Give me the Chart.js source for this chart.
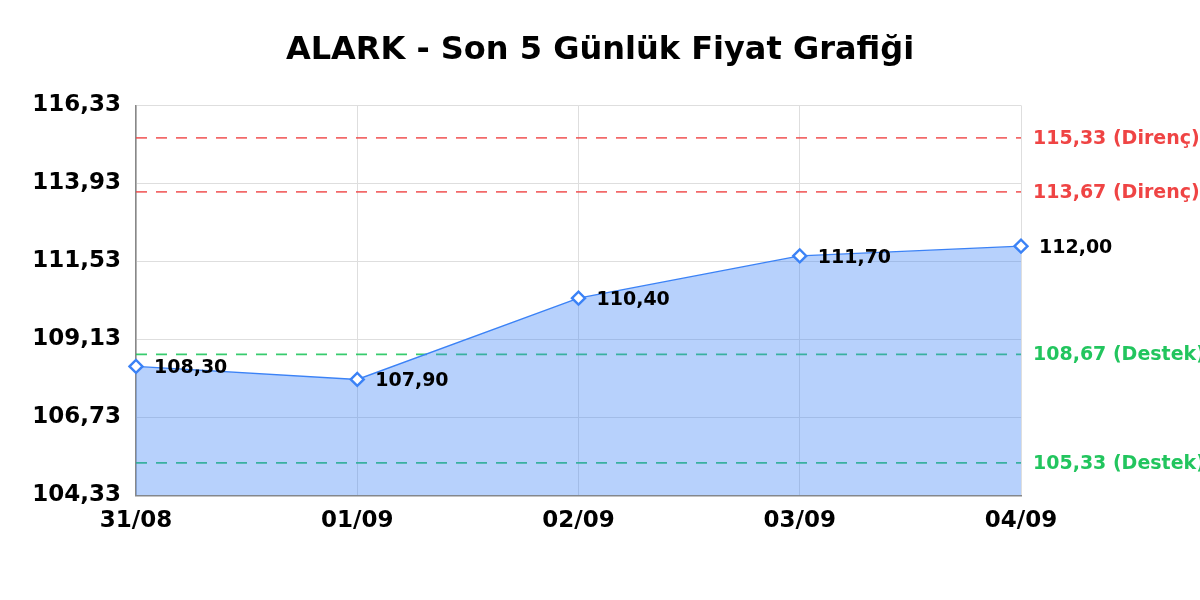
<!DOCTYPE html>
<html>
<head>
<meta charset="utf-8">
<script src="https://cdn.jsdelivr.net/npm/chart.js@4/dist/chart.umd.min.js"></script>
<style>
  html, body { margin: 0; padding: 0; background: #fff; }
  #wrap { width: 1200px; height: 600px; }
</style>
</head>
<body>
<div id="wrap"><canvas id="grafik"></canvas></div>
<script>
// Veriler
const gunler = ['31/08', '01/09', '02/09', '03/09', '04/09'];
const fiyatlar = [108.30, 107.90, 110.40, 111.70, 112.00];
const direncler = [115.33, 113.67];
const destekler = [108.67, 105.33];
const eksenMin = 104.33;
const eksenMax = 116.33;
const eksenAdim = 2.4;

const virgul = v => v.toFixed(2).replace('.', ',');

// Direnç / destek çizgileri ve etiketleri
const seviyeCizgileri = {
    id: 'seviyeCizgileri',
    beforeDatasetsDraw(chart) {
        const ctx = chart.ctx;
        const y = chart.scales.y;
        const alan = chart.chartArea;
        const ciz = (deger, renk) => {
            const py = y.getPixelForValue(deger);
            ctx.save();
            ctx.strokeStyle = renk;
            ctx.lineWidth = 1.6;
            ctx.setLineDash([11, 9]);
            ctx.beginPath();
            ctx.moveTo(alan.left, py);
            ctx.lineTo(alan.right, py);
            ctx.stroke();
            ctx.restore();
        };
        direncler.forEach(d => ciz(d, 'rgba(239, 68, 68, 0.8)'));
        destekler.forEach(d => ciz(d, 'rgba(34, 197, 94, 0.9)'));
    },
    afterDraw(chart) {
        const ctx = chart.ctx;
        const y = chart.scales.y;
        const alan = chart.chartArea;
        const yaz = (deger, metin, renk) => {
            ctx.save();
            ctx.font = 'bold 19px "DejaVu Sans"';
            ctx.fillStyle = renk;
            ctx.textAlign = 'left';
            ctx.textBaseline = 'middle';
            ctx.fillText(virgul(deger) + ' ' + metin, alan.right + 12, y.getPixelForValue(deger) + 1);
            ctx.restore();
        };
        direncler.forEach(d => yaz(d, '(Direnç)', '#ef4444'));
        destekler.forEach(d => yaz(d, '(Destek)', '#22c55e'));
    }
};

// Nokta etiketleri
const degerEtiketleri = {
    id: 'degerEtiketleri',
    afterDatasetsDraw(chart) {
        const ctx = chart.ctx;
        const meta = chart.getDatasetMeta(0);
        ctx.save();
        ctx.font = 'bold 19px "DejaVu Sans"';
        ctx.fillStyle = '#000';
        ctx.textAlign = 'left';
        ctx.textBaseline = 'middle';
        meta.data.forEach((nokta, i) => {
            ctx.fillText(virgul(fiyatlar[i]), nokta.x + 18, nokta.y + 2);
        });
        ctx.restore();
    }
};

const ctx = document.getElementById('grafik').getContext('2d');
new Chart(ctx, {
    type: 'line',
    data: {
        labels: gunler,
        datasets: [{
            data: fiyatlar,
            borderColor: '#3b82f6',
            borderWidth: 1.5,
            backgroundColor: 'rgba(59, 130, 246, 0.37)',
            fill: 'start',
            tension: 0,
            pointStyle: 'rectRot',
            pointRadius: 6.5,
            pointBorderWidth: 2.4,
            pointBackgroundColor: '#fff',
            pointBorderColor: '#3b82f6'
        }]
    },
    options: {
        responsive: true,
        maintainAspectRatio: false,
        animation: false,
        layout: { padding: { left: 0, right: 0, top: 0, bottom: 53 } },
        plugins: {
            legend: { display: false },
            tooltip: { enabled: false },
            title: {
                display: true,
                text: 'ALARK - Son 5 Günlük Fiyat Grafiği',
                color: '#000',
                font: { family: 'DejaVu Sans', size: 32, weight: 'bold' },
                padding: { top: 31, bottom: 36 }
            }
        },
        scales: {
            x: {
                grid: { color: '#dedede', drawTicks: false },
                border: { color: '#888', width: 1.5 },
                ticks: {
                    color: '#000',
                    padding: 12,
                    maxRotation: 0,
                    font: { family: 'DejaVu Sans', size: 23, weight: 'bold' }
                }
            },
            y: {
                min: eksenMin,
                max: eksenMax,
                afterBuildTicks(scale) {
                    const t = [];
                    for (let i = 0; i <= 5; i++) t.push({ value: eksenMin + i * eksenAdim });
                    scale.ticks = t;
                },
                afterFit(scale) { scale.width = 136; },
                grid: { color: '#dedede', drawTicks: false },
                border: { color: '#888', width: 1.5 },
                ticks: {
                    color: '#000',
                    padding: 15,
                    font: { family: 'DejaVu Sans', size: 23, weight: 'bold' },
                    callback: v => virgul(v)
                }
            },
            bos: {
                position: 'right',
                display: true,
                afterFit(scale) { scale.width = 179; },
                grid: { display: false },
                border: { display: false },
                ticks: { display: false }
            }
        }
    },
    plugins: [seviyeCizgileri, degerEtiketleri]
});
</script>
</body>
</html>
